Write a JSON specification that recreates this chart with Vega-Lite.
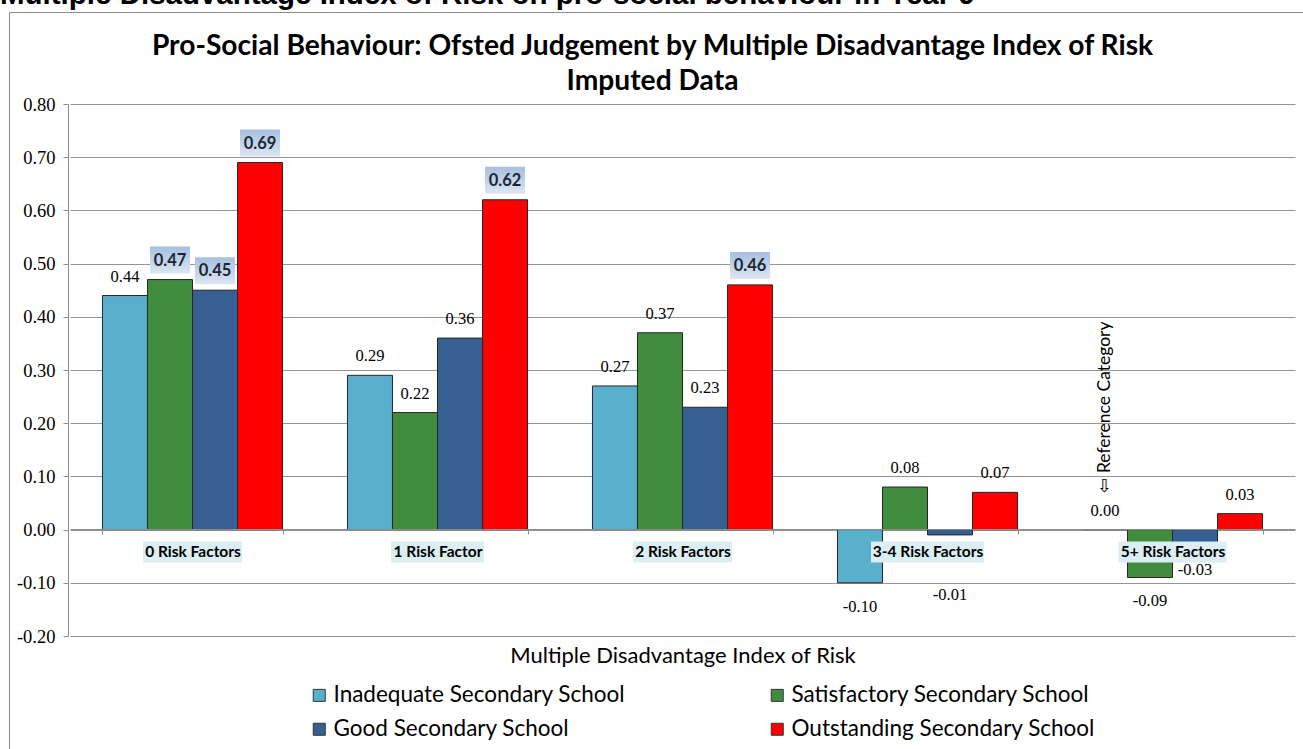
{
  "$schema": "https://vega.github.io/schema/vega-lite/v6.json",
  "autosize": {"type": "none"},
  "padding": {"left": 9, "top": 12, "right": 0, "bottom": 0},
  "width": 1294,
  "height": 737,
  "background": "white",
  "title": {
    "text": "Multiple Disadvantage Index of Risk on pro-social behaviour in Year 9",
    "anchor": "start",
    "frame": "group",
    "orient": "top",
    "dx": -9,
    "offset": -21,
    "baseline": "alphabetic",
    "font": "Liberation Sans",
    "fontSize": 29.5,
    "fontWeight": "bold",
    "color": "#000000"
  },
  "config": {
    "locale": {"number": {"decimal": ".", "thousands": ",", "grouping": [3], "currency": ["", ""], "minus": "-"}},
    "view": {"stroke": "#8c8c8c", "strokeWidth": 1, "strokeDash": [1294, 2031, 737], "fill": "white"},
    "axis": {"domainColor": "#8c8c8c", "tickColor": "#8c8c8c", "gridColor": "#959595", "gridWidth": 1}
  },
  "data": {
    "values": [
      {"category": "0 Risk Factors", "series": "Inadequate Secondary School", "value": 0.44, "sig": false},
      {"category": "0 Risk Factors", "series": "Satisfactory Secondary School", "value": 0.47, "sig": true},
      {"category": "0 Risk Factors", "series": "Good Secondary School", "value": 0.45, "sig": true},
      {"category": "0 Risk Factors", "series": "Outstanding Secondary School", "value": 0.69, "sig": true},
      {"category": "1 Risk Factor", "series": "Inadequate Secondary School", "value": 0.29, "sig": false},
      {"category": "1 Risk Factor", "series": "Satisfactory Secondary School", "value": 0.22, "sig": false},
      {"category": "1 Risk Factor", "series": "Good Secondary School", "value": 0.36, "sig": false},
      {"category": "1 Risk Factor", "series": "Outstanding Secondary School", "value": 0.62, "sig": true},
      {"category": "2 Risk Factors", "series": "Inadequate Secondary School", "value": 0.27, "sig": false},
      {"category": "2 Risk Factors", "series": "Satisfactory Secondary School", "value": 0.37, "sig": false},
      {"category": "2 Risk Factors", "series": "Good Secondary School", "value": 0.23, "sig": false},
      {"category": "2 Risk Factors", "series": "Outstanding Secondary School", "value": 0.46, "sig": true},
      {"category": "3-4 Risk Factors", "series": "Inadequate Secondary School", "value": -0.10, "sig": false},
      {"category": "3-4 Risk Factors", "series": "Satisfactory Secondary School", "value": 0.08, "sig": false},
      {"category": "3-4 Risk Factors", "series": "Good Secondary School", "value": -0.01, "sig": false},
      {"category": "3-4 Risk Factors", "series": "Outstanding Secondary School", "value": 0.07, "sig": false},
      {"category": "5+ Risk Factors", "series": "Inadequate Secondary School", "value": 0.00, "sig": false},
      {"category": "5+ Risk Factors", "series": "Satisfactory Secondary School", "value": -0.09, "sig": false},
      {"category": "5+ Risk Factors", "series": "Good Secondary School", "value": -0.03, "sig": false},
      {"category": "5+ Risk Factors", "series": "Outstanding Secondary School", "value": 0.03, "sig": false}
    ]
  },
  "layer": [
    {
      "mark": {"type": "bar", "stroke": "#262626", "strokeWidth": 1},
      "encoding": {
        "x": {
          "field": "category", "type": "nominal", "sort": null,
          "scale": {
            "domain": ["0 Risk Factors", "1 Risk Factor", "2 Risk Factors", "3-4 Risk Factors", "5+ Risk Factors"],
            "range": [61, 1286], "paddingInner": 0.265, "paddingOuter": 0.1325
          },
          "axis": {
            "orient": "bottom", "offset": -220, "zindex": 1, "grid": false,
            "title": "Multiple Disadvantage Index of Risk",
            "titleFont": "Lato", "titleFontSize": 22, "titleFontWeight": "normal", "titleColor": "#000000",
            "titleY": 126, "titleBaseline": "middle",
            "labelFont": "Lato", "labelFontSize": 15.5, "labelFontWeight": "bold", "labelColor": "#000000",
            "labelAngle": 0, "labelPadding": 10, "tickBand": "extent", "tickSize": 5
          }
        },
        "xOffset": {
          "field": "series", "type": "nominal", "sort": null,
          "scale": {
            "domain": ["Inadequate Secondary School", "Satisfactory Secondary School", "Good Secondary School", "Outstanding Secondary School"],
            "paddingInner": 0, "paddingOuter": 0
          }
        },
        "y": {
          "field": "value", "type": "quantitative",
          "scale": {"domain": [-0.2, 0.8], "range": [624, 92], "nice": false, "zero": false},
          "axis": {
            "orient": "left", "offset": -59, "grid": true,
            "values": [-0.2, -0.1, 0, 0.1, 0.2, 0.3, 0.4, 0.5, 0.6, 0.7, 0.8],
            "format": ".2f",
            "labelFont": "Liberation Serif", "labelFontSize": 18.5, "labelColor": "#000000", "labelPadding": 8, "tickSize": 5,
            "title": ["Pro-Social Behaviour: Ofsted Judgement by Multiple Disadvantage Index of Risk", "Imputed Data"],
            "titleAngle": 0, "titleX": 584, "titleY": 20, "titleAlign": "center", "titleBaseline": "top",
            "titleFont": "Lato", "titleFontSize": 28.2, "titleFontWeight": "bold", "titleColor": "#000000", "titleLineHeight": 35
          }
        },
        "color": {
          "field": "series", "type": "nominal",
          "scale": {
            "domain": ["Inadequate Secondary School", "Satisfactory Secondary School", "Good Secondary School", "Outstanding Secondary School"],
            "range": ["#58b0cc", "#418c3e", "#376092", "#ff0000"]
          },
          "legend": {
            "title": null, "orient": "none", "legendX": 299, "legendY": 672, "columns": 2, "direction": "horizontal",
            "columnPadding": 140, "rowPadding": 11, "padding": 0, "labelLimit": 500,
            "symbolType": "square", "symbolSize": 144, "symbolStrokeColor": "#333333", "symbolStrokeWidth": 1,
            "labelFont": "Lato", "labelFontSize": 22.5, "labelColor": "#000000", "labelOffset": 3
          }
        }
      }
    },
    {
      "transform": [{"filter": "datum.series === 'Inadequate Secondary School'"}],
      "mark": {"type": "bar", "color": "#daeef3", "yOffset": 12, "y2Offset": 33},
      "encoding": {
        "x": {"field": "category", "type": "nominal", "sort": null},
        "y": {"datum": 0, "type": "quantitative"},
        "y2": {"datum": 0},
        "size": {
          "condition": [
            {"test": "datum.category === '1 Risk Factor'", "value": 93},
            {"test": "datum.category === '3-4 Risk Factors'", "value": 113},
            {"test": "datum.category === '5+ Risk Factors'", "value": 108}
          ],
          "value": 99
        }
      }
    },
    {
      "transform": [{"filter": "datum.sig"}],
      "mark": {
        "type": "bar", "width": 40, "yOffset": -33, "y2Offset": -6,
        "fill": {
          "gradient": "linear", "x1": 0, "y1": 0, "x2": 0, "y2": 1,
          "stops": [{"offset": 0, "color": "#a8bfdf"}, {"offset": 1, "color": "#dce6f2"}]
        }
      },
      "encoding": {
        "x": {"field": "category", "type": "nominal", "sort": null},
        "xOffset": {"field": "series", "type": "nominal", "sort": null},
        "y": {"field": "value", "type": "quantitative"},
        "y2": {"field": "value"}
      }
    },
    {
      "transform": [{"filter": "datum.sig"}],
      "mark": {"type": "text", "font": "Lato", "fontSize": 16.5, "fontWeight": "bold", "color": "#1c2633", "dy": -19, "baseline": "middle"},
      "encoding": {
        "x": {"field": "category", "type": "nominal", "sort": null},
        "xOffset": {"field": "series", "type": "nominal", "sort": null},
        "y": {"field": "value", "type": "quantitative"},
        "text": {"field": "value", "type": "quantitative", "format": ".2f"}
      }
    },
    {
      "transform": [{"filter": "!datum.sig && datum.value >= 0"}],
      "mark": {"type": "text", "font": "Liberation Serif", "fontSize": 16.5, "color": "#000000", "dy": -19, "baseline": "middle"},
      "encoding": {
        "x": {"field": "category", "type": "nominal", "sort": null},
        "xOffset": {"field": "series", "type": "nominal", "sort": null},
        "y": {"field": "value", "type": "quantitative"},
        "text": {"field": "value", "type": "quantitative", "format": ".2f"}
      }
    },
    {
      "transform": [{"filter": "datum.value < -0.02"}],
      "mark": {"type": "text", "font": "Liberation Serif", "fontSize": 16.5, "color": "#000000", "dy": 24, "baseline": "middle"},
      "encoding": {
        "x": {"field": "category", "type": "nominal", "sort": null},
        "xOffset": {"field": "series", "type": "nominal", "sort": null},
        "y": {"field": "value", "type": "quantitative"},
        "text": {"field": "value", "type": "quantitative", "format": ".2f"}
      }
    },
    {
      "transform": [{"filter": "datum.value < 0 && datum.value >= -0.02"}],
      "mark": {"type": "text", "font": "Liberation Serif", "fontSize": 16.5, "color": "#000000", "dy": 60, "baseline": "middle"},
      "encoding": {
        "x": {"field": "category", "type": "nominal", "sort": null},
        "xOffset": {"field": "series", "type": "nominal", "sort": null},
        "y": {"field": "value", "type": "quantitative"},
        "text": {"field": "value", "type": "quantitative", "format": ".2f"}
      }
    },
    {
      "transform": [{"filter": "datum.category === '5+ Risk Factors' && datum.series === 'Inadequate Secondary School'"}],
      "mark": {"type": "text", "font": "Lato", "fontSize": 17.5, "color": "#000000", "angle": 270, "align": "left", "baseline": "middle", "dx": 37},
      "encoding": {
        "x": {"field": "category", "type": "nominal", "sort": null},
        "xOffset": {"field": "series", "type": "nominal", "sort": null},
        "y": {"field": "value", "type": "quantitative"},
        "text": {"value": "⇦ Reference Category"}
      }
    }
  ]
}
